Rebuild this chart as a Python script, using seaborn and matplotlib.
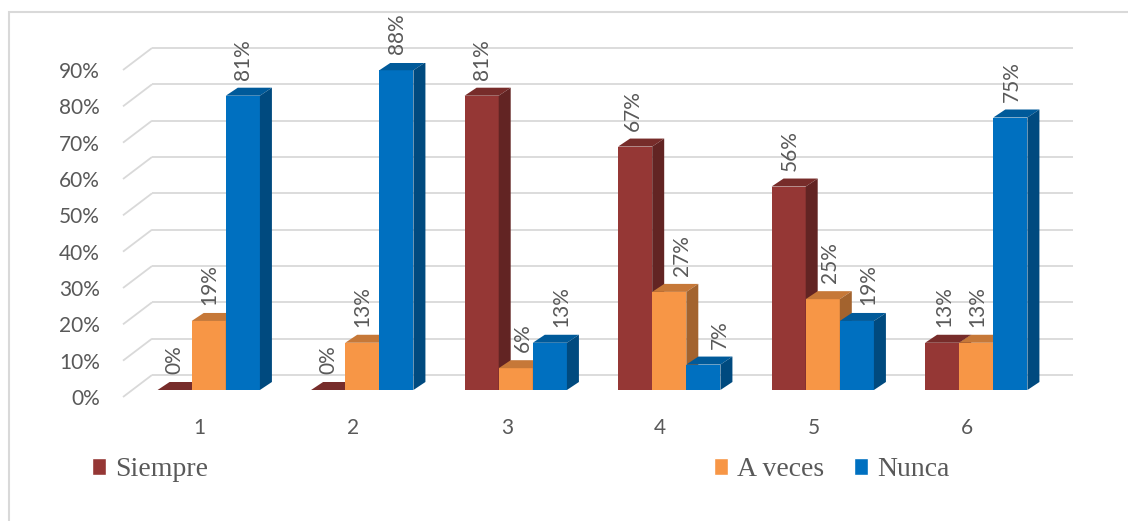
import numpy as np
import pandas as pd
import matplotlib
matplotlib.use("Agg")
import matplotlib.pyplot as plt
import seaborn as sns
from matplotlib.patches import Polygon, Rectangle
from matplotlib.ticker import PercentFormatter
from matplotlib.transforms import ScaledTranslation
from matplotlib.colors import to_rgb

# ---- data -------------------------------------------------------------
categories = ["1", "2", "3", "4", "5", "6"]
series = ["Siempre", "A veces", "Nunca"]
siempre = [0, 0, 81, 67, 56, 13]
a_veces = [19, 13, 6, 27, 25, 13]
nunca = [81, 88, 13, 7, 19, 75]
y_ticks = [0, 10, 20, 30, 40, 50, 60, 70, 80, 90]
colors = ["#953735", "#F79646", "#0070C0"]

values = [siempre, a_veces, nunca]

# horizontal nudge of each value label (pixels), keeps labels off the
# neighbouring bar sides
label_nudge = [
    [0, 0, 0, -2, 1, 2],
    [1, 0, 7, 13, 7, 1],
    [0, 1, 11, 17, 11, 2],
]

sns.set_theme(style="white")
plt.rcParams["font.family"] = ["Lato", "DejaVu Sans"]

W, H, DPI = 1128, 521, 100
fig = plt.figure(figsize=(W / DPI, H / DPI), dpi=DPI)
fig.patch.set_facecolor("white")
ax = fig.add_axes([132 / W, (H - 390) / H, 921 / W, 327 / H])
ax.patch.set_alpha(0)

df = pd.DataFrame({
    "cat": categories * len(series),
    "serie": np.repeat(series, len(categories)),
    "value": np.array(siempre + a_veces + nunca) / 100.0,
})

sns.barplot(data=df, x="cat", y="value", hue="serie", order=categories,
            hue_order=series, palette=colors, width=2 / 3, saturation=1,
            errorbar=None, ax=ax)
handles, labels = ax.get_legend_handles_labels()
if ax.legend_ is not None:
    ax.legend_.remove()

ax.set_xlim(-0.5, 5.5)
ax.set_ylim(0, 0.9)
ax.set_xlabel("")
ax.set_ylabel("")
for s in ax.spines.values():
    s.set_visible(False)
ax.set_yticks(np.array(y_ticks) / 100)
ax.yaxis.set_major_formatter(PercentFormatter(1, decimals=0))
ax.tick_params(length=0, labelsize=15, labelcolor="#595959")
ax.tick_params(axis="y", pad=16.6)
ax.tick_params(axis="x", pad=15.1)

# pixel -> data unit conversion for the fake depth
sx = (5.5 - (-0.5)) / 921.0
sy = 0.9 / 327.0

grid_c = "#D9D9D9"
# back wall and left floor-edge lines
for t in y_ticks:
    v = t / 100
    ax.plot([-0.5 + 20 * sx, 5.5 + 20 * sx], [v + 15 * sy, v + 15 * sy],
            color=grid_c, lw=1.3, zorder=0.5, clip_on=False,
            solid_capstyle="butt")
    ax.plot([-0.5 - 9 * sx, -0.5 + 20 * sx], [v - 7 * sy, v + 15 * sy],
            color=grid_c, lw=1.3, zorder=0.5, clip_on=False,
            solid_capstyle="butt")

def shade(c, f):
    r, g, b = to_rgb(c)
    return (r * f, g * f, b * f)

bx, by = 12 * sx, 8 * sy
for k, cont in enumerate(ax.containers):
    for i, (rect, val) in enumerate(zip(cont.patches, values[k])):
        z = 3 + k
        rect.set_zorder(z)
        rect.set_edgecolor("none")
        x0, w, h = rect.get_x(), rect.get_width(), rect.get_height()
        top = Polygon([(x0, h), (x0 + w, h), (x0 + w + bx, h + by), (x0 + bx, h + by)],
                      closed=True, fc=shade(colors[k], 0.8), ec="none", zorder=z)
        side = Polygon([(x0 + w, 0), (x0 + w + bx, by), (x0 + w + bx, h + by), (x0 + w, h)],
                       closed=True, fc=shade(colors[k], 0.66), ec="none", zorder=z)
        ax.add_patch(top)
        ax.add_patch(side)
        ax.annotate(f"{val}%", (x0 + w / 2, h),
                    xytext=(label_nudge[k][i] * 0.72, 11.5),
                    textcoords="offset points", rotation=90, ha="center",
                    va="bottom", fontsize=15, color="#595959", zorder=10,
                    annotation_clip=False)

# legend: first entry on the left, the other two on the right
leg_kw = dict(loc="center left", frameon=False,
              prop={"family": "Liberation Serif", "size": 20},
              handlelength=0.5, handleheight=0.55, handletextpad=0.32,
              borderpad=0, borderaxespad=0, labelcolor="#595959")
fig.legend(handles=handles[:1], labels=labels[:1],
           bbox_to_anchor=(92 / W, 1 - 470 / H), **leg_kw)
fig.legend(handles=handles[1:], labels=labels[1:], ncol=2, columnspacing=1.1,
           bbox_to_anchor=(714 / W, 1 - 470 / H), **leg_kw)

# chart frame
fig.add_artist(Rectangle((9 / W, -0.05), 1.2, (1 - 12 / H) + 0.05,
                         transform=fig.transFigure, fill=False,
                         ec="#D9D9D9", lw=1.5))

# tick labels sit on the front edge of the floor
fig.canvas.draw()
shift = ScaledTranslation(-9 / DPI, -7 / DPI, fig.dpi_scale_trans)
for tk in ax.xaxis.get_major_ticks() + ax.yaxis.get_major_ticks():
    tk.label1.set_transform(tk.label1.get_transform() + shift)

fig.savefig("out.png", dpi=DPI)
